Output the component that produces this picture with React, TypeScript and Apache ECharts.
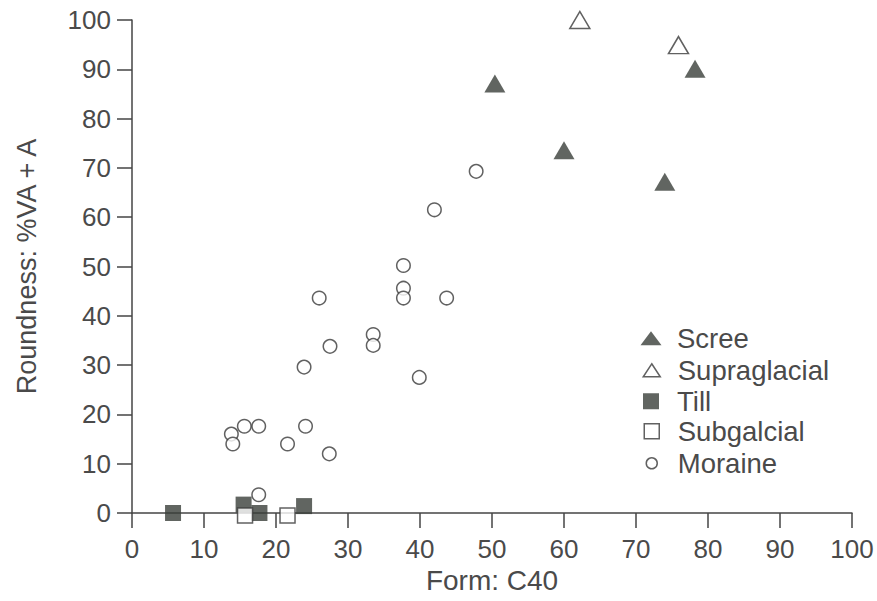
import React, { useEffect, useRef } from 'react';
import * as echarts from 'echarts';

// [Form C40, Roundness %VA+A]
const scree: number[][] = [[50.4, 87.1], [60.0, 73.6], [74.0, 67.2], [78.2, 90.1]];
const supraglacial: number[][] = [[62.2, 100], [75.9, 94.9]];
const till: number[][] = [[5.7, 0], [15.5, 1.7], [17.7, 0], [23.9, 1.4]];
const subglacial: number[][] = [[15.7, -0.5], [21.6, -0.5]];
const moraine: number[][] = [
  [37.7, 50.2], [37.7, 45.6], [37.7, 43.6], [43.7, 43.6], [26.0, 43.6],
  [33.5, 36.2], [33.5, 34.0], [27.5, 33.8], [23.9, 29.6], [39.9, 27.5],
  [15.6, 17.6], [17.6, 17.6], [24.1, 17.6], [13.8, 16.0], [14.0, 14.0],
  [21.6, 14.0], [27.4, 12.0], [17.6, 3.7], [47.8, 69.3], [42.0, 61.5],
];
const seriesNames = ['Scree', 'Supraglacial', 'Till', 'Subgalcial', 'Moraine'];
const xName = 'Form: C40';
const yName = 'Roundness: %VA + A';

const FONT = '"Liberation Sans", Arial, Helvetica, sans-serif';
const TEXT = '#4a4a4a';
const AX = '#454545';
const DARK = '#3a3e3a';

export default function App() {
  const ref = useRef<HTMLDivElement>(null);
  useEffect(() => {
    if (!ref.current) return;
    const chart = echarts.init(ref.current, null, { renderer: 'svg' });
    const filled = { color: DARK };
    const open = { color: '#ffffff', borderColor: '#3a3a3a', borderWidth: 1.5 };
    const legendSpec = [
      { name: seriesNames[0], icon: 'triangle', w: 21, h: 14, cy: 338, style: filled },
      { name: seriesNames[1], icon: 'triangle', w: 17, h: 13, cy: 370, style: open },
      { name: seriesNames[2], icon: 'rect', w: 16, h: 16, cy: 401, style: filled },
      { name: seriesNames[3], icon: 'rect', w: 15, h: 15, cy: 431, style: open },
      { name: seriesNames[4], icon: 'circle', w: 11, h: 11, cy: 463, style: open },
    ];
    const iconCx = 651;
    const textX = 677;
    const fs = 27.5;
    const legends = legendSpec.map((l) => ({
      data: [{ name: l.name, icon: l.icon, itemStyle: l.style }],
      orient: 'vertical',
      left: iconCx - l.w / 2,
      top: l.cy - fs / 2,
      itemWidth: l.w,
      itemHeight: l.h,
      selectedMode: false,
      padding: 0,
      textStyle: {
        fontSize: fs,
        color: TEXT,
        fontFamily: FONT,
        padding: [0, 0, 0, textX - iconCx - l.w / 2 - 5],
      },
    }));
    chart.setOption({
      animation: false,
      backgroundColor: '#ffffff',
      textStyle: { fontFamily: FONT },
      grid: { left: 132, right: 25, top: 20, bottom: 88, containLabel: false },
      legend: legends,
      xAxis: {
        type: 'value',
        min: 0,
        max: 100,
        interval: 10,
        name: xName,
        nameLocation: 'middle',
        nameGap: 52,
        nameTextStyle: { fontSize: 28, color: TEXT, fontFamily: FONT },
        axisLine: { show: true, onZero: false, lineStyle: { color: AX, width: 1.5 } },
        axisTick: { show: true, length: 15, lineStyle: { color: AX, width: 1.5 } },
        axisLabel: { fontSize: 26, color: TEXT, margin: 23, fontFamily: FONT },
        splitLine: { show: false },
      },
      yAxis: {
        type: 'value',
        min: 0,
        max: 100,
        interval: 10,
        name: yName,
        nameLocation: 'middle',
        nameGap: 92,
        nameTextStyle: { fontSize: 27, color: TEXT, fontFamily: FONT },
        axisLine: { show: true, onZero: false, lineStyle: { color: AX, width: 1.5 } },
        axisTick: { show: true, length: 15, lineStyle: { color: AX, width: 1.5 } },
        axisLabel: { fontSize: 26, color: TEXT, margin: 21, fontFamily: FONT },
        splitLine: { show: false },
      },
      series: [
        { name: seriesNames[0], type: 'scatter', data: scree, symbol: 'triangle', symbolSize: [21, 18], itemStyle: filled, clip: false },
        { name: seriesNames[1], type: 'scatter', data: supraglacial, symbol: 'triangle', symbolSize: [20, 17], itemStyle: open, clip: false },
        { name: seriesNames[2], type: 'scatter', data: till, symbol: 'rect', symbolSize: 16, itemStyle: filled, clip: false },
        { name: seriesNames[3], type: 'scatter', data: subglacial, symbol: 'rect', symbolSize: 15, itemStyle: open, clip: false },
        { name: seriesNames[4], type: 'scatter', data: moraine, symbol: 'circle', symbolSize: 13.5, itemStyle: open, clip: false },
      ],
    });
    return () => chart.dispose();
  }, []);
  return (
    <div
      ref={ref}
      style={{ position: 'fixed', left: 0, top: 0, width: 877, height: 601, background: '#fff' }}
    />
  );
}
